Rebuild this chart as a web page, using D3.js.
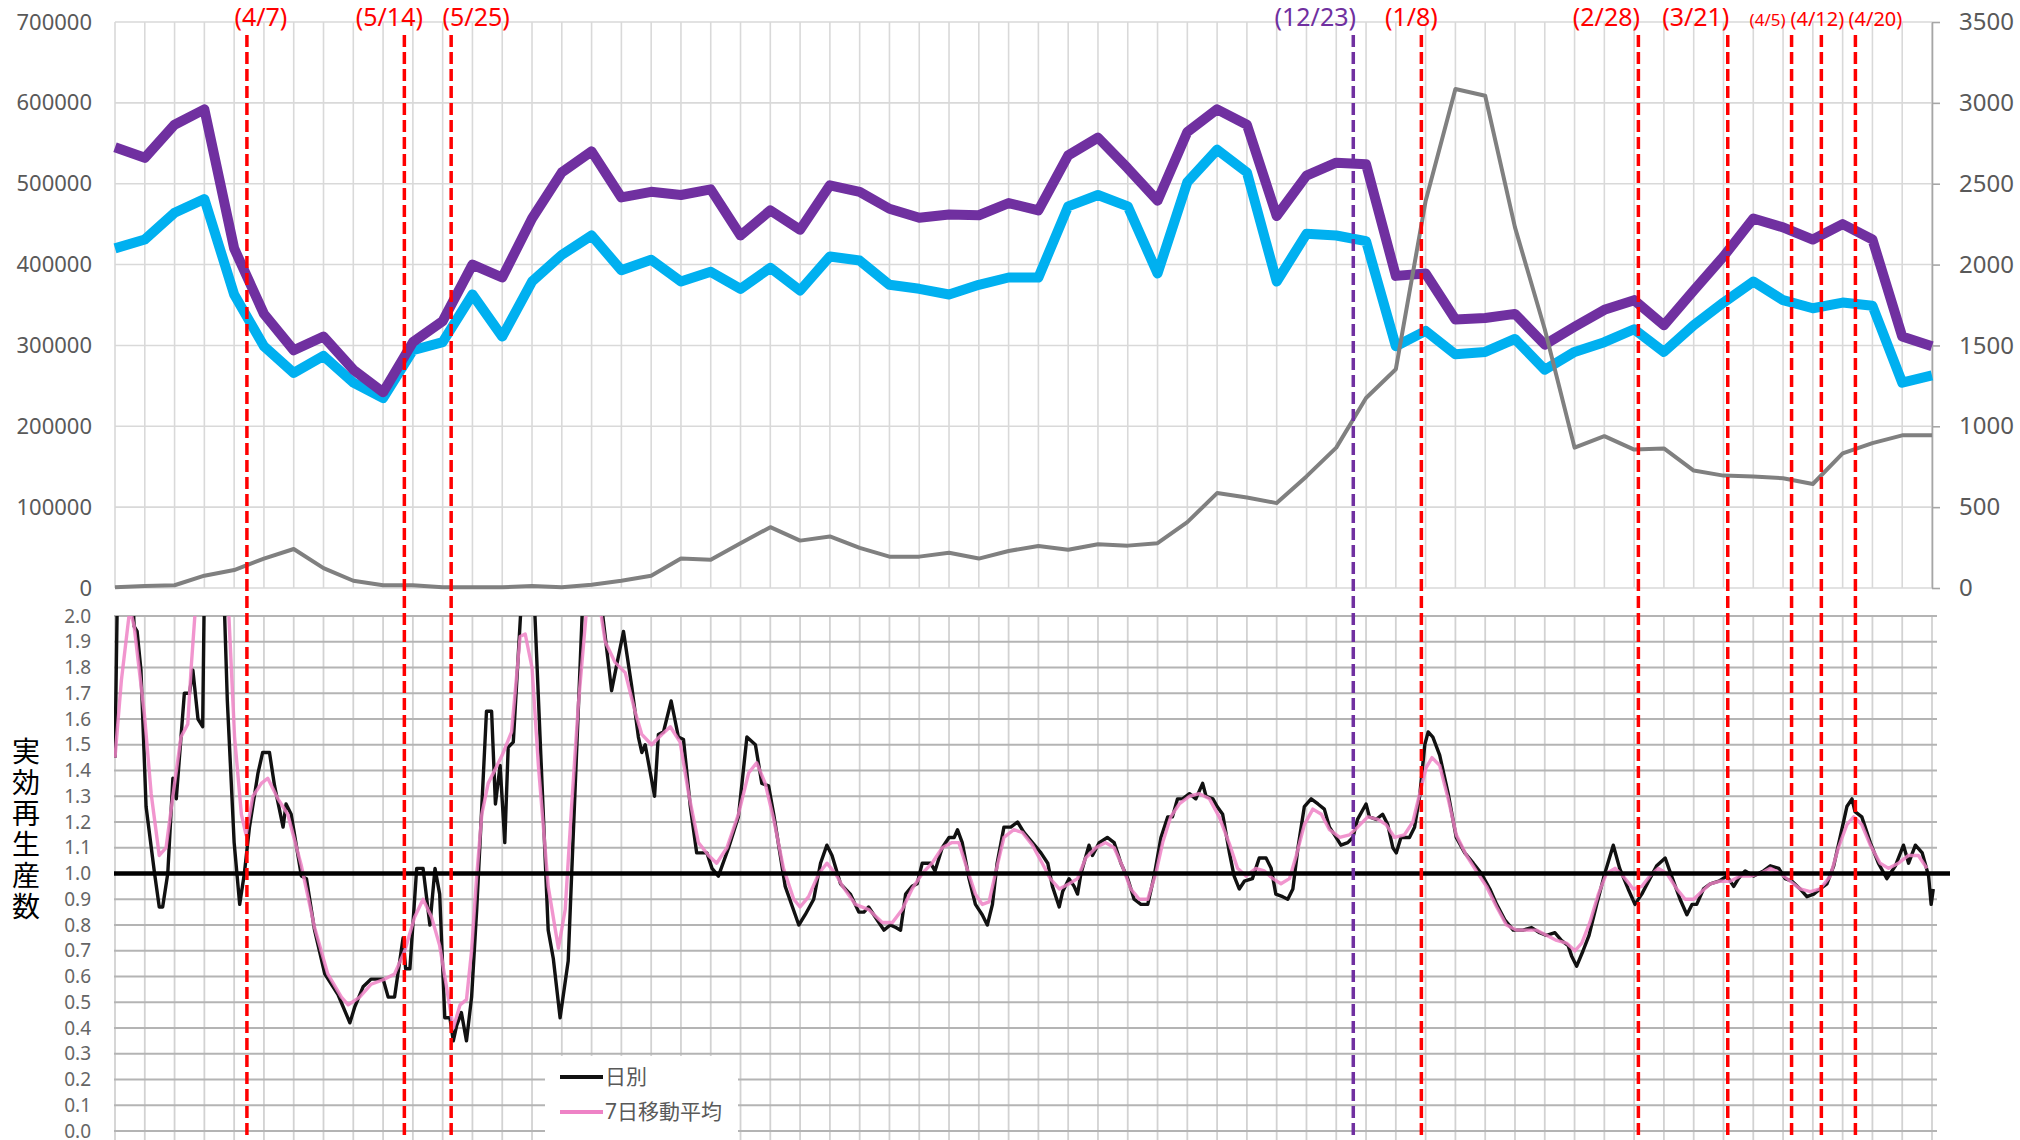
<!DOCTYPE html>
<html>
<head>
<meta charset="utf-8">
<script src="https://cdn.jsdelivr.net/npm/d3@7"></script>
<style>
  body { margin: 0; background: #fff; }
  text { font-family: "Noto Sans", "Noto Sans CJK JP", sans-serif; }
</style>
</head>
<body>
<svg id="chart" width="2020" height="1140"></svg>
<script>
// ---- data ----
// weekly points, first week starting 2020-03-07
const purpleWeekly = [545000, 532000, 573000, 592000, 420000, 339000, 294000, 311000, 270000, 242000, 304000, 330000, 400000, 384000, 457000, 514000, 540000,
  483000, 490000, 486000, 493000, 436000, 467000, 443000, 498000, 490000, 469000, 458000, 462000, 461000, 476000, 467000, 535000, 557000, 519000, 479000, 564000,
  592000, 573000, 460000, 510000, 526000, 524000, 386000, 389000, 332000, 334000, 339000, 301000, 323000, 344000, 356000, 325000, 368000, 410000, 457000, 446000, 431000, 450000, 431000, 311000, 299000];
const cyanWeekly = [420000, 431000, 464000, 481000, 363000, 299000, 266000, 287000, 254000, 235000, 294000, 304000, 363000, 311000, 379000, 412000, 436000,
  393000, 406000, 379000, 391000, 370000, 396000, 368000, 410000, 405000, 375000, 370000, 363000, 375000, 384000, 384000, 472000, 486000, 472000, 389000, 502000,
  542000, 514000, 379000, 438000, 436000, 429000, 299000, 318000, 289000, 292000, 308000, 270000, 292000, 304000, 320000, 292000, 325000, 353000, 379000, 356000, 346000, 353000, 349000, 254000, 263000];
// right axis series
const grayWeekly = [5, 12, 17, 76, 111, 182, 241, 123, 45, 17, 17, 5, 5, 5, 12, 5, 20,
  45, 76, 182, 175, 277, 376, 293, 319, 248, 194, 194, 218, 182, 229, 260, 236, 270, 262, 277, 407,
  587, 560, 525, 690, 868, 1175, 1353, 2393, 3086, 3044, 2230, 1600, 868, 939, 856, 863, 726, 695, 690, 679, 643, 832, 896, 944, 944];

// effective reproduction number: [day offset from 2020-03-07, value]
const rDaily = [[0,1.45],[1,2.6],[3.5,2.3],[4.5,1.96],[5.2,1.94],[6.1,1.79],[7.3,1.26],[9.3,1.0],[10.4,0.87],[11.2,0.87],[12.4,1.0],[13.6,1.37],[14.4,1.29],
  [16.3,1.70],[17.5,1.70],[18.3,1.79],[19.5,1.60],[20.6,1.57],[21.5,2.8],[24.5,2.7],[25,2.4],[26.4,1.67],[28,1.12],[29.3,0.88],[30.4,1.0],[31.6,1.18],
  [33.6,1.39],[34.7,1.47],[36.3,1.47],[37.5,1.34],[39.5,1.18],[40.2,1.27],[41.4,1.23],[43.8,0.99],[45,0.98],[46.9,0.78],[49.3,0.61],[52.4,0.53],[55.2,0.42],
  [56.3,0.48],[58.3,0.56],[60.2,0.59],[63,0.59],[64.2,0.52],[65.7,0.52],[67.7,0.75],[68.3,0.63],[69.3,0.63],[70.9,1.02],[72.4,1.02],[74,0.80],[75.2,1.02],
  [76.3,0.92],[77.5,0.44],[78.7,0.44],[79.5,0.35],[80.3,0.41],[81.4,0.46],[82.6,0.35],[83.8,0.52],[85,0.86],[86.2,1.26],[87.3,1.63],[88.5,1.63],[89.4,1.27],
  [90.5,1.42],[91.6,1.12],[92.4,1.49],[93.6,1.51],[96.5,2.35],[97.8,2.35],[101.8,0.78],[103,0.67],[104.6,0.44],[106.5,0.66],[107.3,0.99],[110.5,2.3],
  [112.5,2.3],[116.7,1.71],[117.9,1.81],[119.5,1.94],[121.4,1.73],[123,1.53],[123.8,1.47],[124.6,1.50],[126.8,1.30],[127.7,1.54],[128.9,1.55],[130.7,1.67],
  [132.4,1.53],[133.6,1.52],[135.2,1.26],[136.7,1.08],[139.1,1.08],[140.3,1.02],[141.8,0.99],[144.2,1.10],[146.5,1.22],[148.5,1.53],[150.5,1.50],[152,1.35],
  [153.6,1.34],[154.8,1.23],[157.5,0.95],[160.7,0.80],[162.2,0.84],[164.2,0.90],[165.8,1.04],[167.3,1.11],[168.5,1.07],[170.5,0.96],[172.8,0.92],[174.8,0.85],
  [176,0.85],[177.1,0.87],[178.7,0.83],[180.7,0.78],[182.2,0.80],[183.5,0.79],[184.6,0.78],[185.8,0.92],[187.3,0.95],[188.5,0.96],[189.7,1.04],[191.7,1.04],
  [192.7,1.01],[194.4,1.10],[196,1.14],[197.2,1.14],[198,1.17],[199.1,1.12],[200.7,0.98],[202.2,0.88],[203.8,0.84],[205,0.80],[206.2,0.88],[207.3,1.04],
  [208.9,1.18],[210.5,1.18],[212.1,1.20],[213.6,1.16],[215.6,1.12],[217.6,1.08],[219.2,1.04],[220.3,0.95],[221.9,0.87],[222.7,0.93],[224.2,0.98],[225.4,0.95],
  [226.2,0.92],[227,1.0],[228.9,1.11],[229.7,1.07],[231.3,1.12],[233.2,1.14],[234.8,1.12],[236.4,1.04],[238,0.98],[239.5,0.90],[241.1,0.88],[242.7,0.88],
  [244.2,0.99],[245.8,1.14],[247.4,1.22],[248.5,1.22],[249.7,1.29],[250.9,1.29],[252.5,1.31],[254,1.29],[255.6,1.35],[256.4,1.30],[258,1.29],[259,1.26],
  [260.3,1.23],[261.9,1.08],[263,0.99],[264.2,0.94],[265.4,0.97],[267.3,0.98],[268.9,1.06],[270.5,1.06],[271.7,1.02],[272.8,0.92],[274.4,0.91],[275.6,0.90],
  [276.8,0.94],[278,1.10],[279.5,1.26],[281.1,1.29],[282.7,1.27],[284.2,1.25],[285.4,1.18],[286.6,1.15],[288.1,1.11],[289.7,1.12],[290.9,1.14],[292,1.21],
  [294,1.27],[294.8,1.22],[296.4,1.21],[297.9,1.23],[299.1,1.19],[300.3,1.10],[301.1,1.08],[302.2,1.14],[304.2,1.14],[305.4,1.18],[306.6,1.30],[307.8,1.50],
  [308.6,1.55],[309.7,1.53],[311.3,1.46],[313.3,1.31],[315.2,1.14],[317.2,1.08],[319.2,1.04],[321.1,1.0],[323.1,0.94],[324.7,0.88],[326.6,0.82],[328.6,0.78],
  [330.9,0.78],[332.9,0.79],[334.8,0.77],[336.4,0.76],[338.4,0.77],[339.9,0.74],[341.5,0.72],[342.3,0.68],[343.5,0.64],[345,0.70],[346.4,0.76],[348.2,0.88],
  [350.1,1.0],[352.1,1.11],[353.6,1.02],[355.6,0.94],[357.2,0.88],[358.8,0.92],[360.7,0.98],[362.3,1.03],[364.3,1.06],[365.8,0.99],[367.8,0.90],[369.4,0.84],
  [370.6,0.88],[371.7,0.88],[373.3,0.94],[374.9,0.96],[376.9,0.97],[378.8,0.99],[380.4,0.95],[381.5,0.98],[383.1,1.01],[385.1,0.99],[387.4,1.01],[389,1.03],
  [391,1.02],[392.5,0.98],[394.1,0.97],[396,0.94],[397.6,0.91],[399.2,0.92],[400.7,0.94],[402.3,0.96],[403.9,1.03],[405.4,1.14],[407,1.26],[408.2,1.29],
  [408.9,1.24],[410.5,1.22],[412.5,1.12],[414.4,1.04],[416.4,0.98],[418.4,1.03],[420.3,1.11],[421.5,1.04],[423.1,1.11],[424.7,1.08],[426.2,0.99],[426.8,0.88],[427.3,0.94]];

const rAvg7 = [[0,1.45],[1.5,1.75],[3.5,2.03],[4.5,1.96],[6.9,1.62],[8.5,1.31],[10.4,1.07],[12,1.10],[13.6,1.30],[15.5,1.53],[17.1,1.58],[17.9,1.80],
  [20.5,2.4],[23.5,2.5],[26.2,2.2],[28.1,1.53],[29.7,1.23],[30.8,1.15],[32.4,1.30],[34.4,1.35],[35.9,1.37],[38.3,1.29],[40.6,1.23],[43.8,1.03],[46.9,0.79],
  [50,0.61],[53.2,0.52],[54.8,0.49],[57.5,0.52],[60.2,0.57],[63.4,0.59],[65.7,0.61],[68.1,0.70],[70.4,0.83],[72.4,0.90],[74.4,0.83],[76.3,0.72],[78.3,0.52],
  [79.5,0.40],[81.1,0.49],[82.6,0.51],[83.8,0.70],[85,0.99],[86.2,1.23],[87.7,1.35],[91,1.46],[93.2,1.55],[95.2,1.92],[96.4,1.93],[98,1.80],[99.5,1.42],
  [101.8,0.95],[104.2,0.71],[105.8,0.86],[107.3,1.26],[108.9,1.66],[112,2.25],[115.2,1.90],[117.5,1.82],[119.9,1.78],[122.2,1.63],[123.8,1.54],[126.1,1.50],
  [128.5,1.54],[130.5,1.57],[132.8,1.51],[134.8,1.31],[137.1,1.12],[139.5,1.07],[141.4,1.04],[143.8,1.10],[146.5,1.23],[148.9,1.39],[150.8,1.43],[152.8,1.35],
  [154.8,1.21],[157.1,1.02],[159.5,0.90],[161,0.87],[163,0.91],[165.4,1.0],[167.3,1.04],[169.3,1.0],[171,0.95],[174,0.88],[177.1,0.86],[180.3,0.81],[182.7,0.81],
  [185,0.86],[187.3,0.94],[189.7,1.0],[192,1.04],[194.4,1.10],[196.7,1.12],[198.3,1.12],[200.2,1.02],[202.2,0.92],[203.8,0.88],[205.4,0.89],[206.9,1.0],
  [208.9,1.14],[211.2,1.17],[213.2,1.16],[215.6,1.11],[217.9,1.04],[219.8,0.98],[221.9,0.94],[224.2,0.96],[226.2,0.98],[228.1,1.06],[230.5,1.10],[232.8,1.12],
  [234.8,1.10],[236.7,1.03],[238.7,0.94],[240.7,0.90],[242.7,0.90],[244.6,1.0],[246.2,1.12],[248.1,1.22],[250.1,1.27],[252.5,1.30],[254.8,1.31],[257.2,1.29],
  [259.5,1.22],[262,1.11],[263.8,1.02],[265.8,0.99],[268.1,1.02],[270.1,1.01],[272.1,0.98],[274,0.96],[276,0.98],[277.6,1.07],[279.5,1.19],[281.5,1.25],
  [283.5,1.23],[285.4,1.17],[287.8,1.14],[290.1,1.15],[292,1.18],[294.4,1.22],[296.8,1.21],[298.7,1.19],[300.7,1.14],[303,1.15],[305,1.20],[306.6,1.31],
  [308.1,1.41],[309.5,1.45],[311.3,1.42],[313.3,1.29],[315.2,1.15],[317.6,1.07],[319.9,1.01],[322.3,0.95],[324.7,0.87],[327,0.80],[329.4,0.78],[331.7,0.78],
  [334.1,0.78],[336.4,0.76],[338.8,0.74],[341.1,0.73],[343.1,0.70],[344.7,0.73],[346.6,0.81],[348.6,0.92],[350.5,1.0],[352.5,1.02],[354.4,0.99],[356.8,0.94],
  [358.8,0.95],[360.7,0.99],[362.7,1.02],[364.7,1.0],[367,0.94],[369,0.90],[371,0.90],[372.9,0.93],[374.9,0.96],[377.2,0.97],[379.6,0.97],[381.9,0.99],
  [384.3,0.99],[386.7,1.0],[389,1.02],[391.4,1.0],[393.7,0.97],[396,0.94],[398.4,0.93],[400.7,0.94],[403.1,0.99],[405,1.10],[407,1.19],[408.6,1.22],
  [410.5,1.19],[412.5,1.11],[414.8,1.04],[416.8,1.02],[419.1,1.04],[421.5,1.07],[423.8,1.07],[425.8,1.02]];

// event markers
const markerDates = ["2020-04-07", "2020-05-14", "2020-05-25", "2020-12-23", "2021-01-08", "2021-02-28", "2021-03-21", "2021-04-05", "2021-04-12", "2021-04-20"];
const legendNames = ["日別", "7日移動平均"];
const yTitle = "実効再生産数";

// ---- styling (not data) ----
const markerColors = ["#ff0000", "#ff0000", "#ff0000", "#7030a0", "#ff0000", "#ff0000", "#ff0000", "#ff0000", "#ff0000", "#ff0000"];
const labelShift = [14, -15, 25, -38, -10, -32, -32, -24, -4, 20];
const labelSize = [25, 25, 25, 25, 25, 25, 25, 17, 20, 20];

const svg = d3.select("#chart");
svg.append("rect").attr("width", 2020).attr("height", 1140).attr("fill", "#fff");

const DAY = 864e5;
const start = Date.UTC(2020, 2, 7);
const dayDate = d => new Date(start + d * DAY);
const weekDates = d3.range(purpleWeekly.length).map(i => dayDate(7 * i));

const x = d3.scaleUtc()
  .domain([weekDates[0], weekDates[weekDates.length - 1]])
  .range([115, 1932]);
const yTop = d3.scaleLinear().domain([0, 700000]).range([588, 22]);
const yTopR = d3.scaleLinear().domain([0, 3500]).range([588, 22]);
const yR = d3.scaleLinear().domain([0, 2]).range([1131, 616]);

// ---- upper panel ----
const upper = svg.append("g");

upper.selectAll("line.hg").data(yTop.ticks(7)).enter().append("line")
  .attr("x1", 115).attr("x2", 1932)
  .attr("y1", d => yTop(d)).attr("y2", d => yTop(d))
  .attr("stroke", "#d9d9d9").attr("stroke-width", 1.6);

upper.selectAll("line.vg").data(weekDates).enter().append("line")
  .attr("x1", d => x(d)).attr("x2", d => x(d))
  .attr("y1", yTop(700000)).attr("y2", yTop(0))
  .attr("stroke", "#d9d9d9").attr("stroke-width", 1.6);

// left axis
upper.append("g")
  .attr("transform", `translate(${x.range()[0]},0)`)
  .call(d3.axisLeft(yTop).tickValues(d3.range(0, 700001, 100000)).tickFormat(d3.format("d")).tickSize(0).tickPadding(23))
  .call(g => g.select(".domain").remove())
  .selectAll("text").attr("font-size", 22).attr("fill", "#595959")
  .attr("font-family", "'Noto Sans', sans-serif");

// right axis
upper.append("g")
  .attr("transform", `translate(${x.range()[1]},0)`)
  .call(d3.axisRight(yTopR).tickValues(d3.range(0, 3501, 500)).tickFormat(d3.format("d")).tickSize(8).tickSizeOuter(0).tickPadding(19))
  .call(g => g.select(".domain").attr("stroke", "#a6a6a6").attr("stroke-width", 1.6))
  .call(g => g.selectAll(".tick line").attr("stroke", "#a6a6a6").attr("stroke-width", 1.6))
  .selectAll("text").attr("font-size", 24).attr("fill", "#595959")
  .attr("font-family", "'Noto Sans', sans-serif");

const weekLine = scale => d3.line().x((d, i) => x(weekDates[i])).y(d => scale(d));

upper.append("path").datum(cyanWeekly)
  .attr("d", weekLine(yTop)).attr("fill", "none")
  .attr("stroke", "#00b0f0").attr("stroke-width", 10).attr("stroke-linejoin", "round");
upper.append("path").datum(purpleWeekly)
  .attr("d", weekLine(yTop)).attr("fill", "none")
  .attr("stroke", "#7030a0").attr("stroke-width", 10).attr("stroke-linejoin", "round");
upper.append("path").datum(grayWeekly)
  .attr("d", weekLine(yTopR)).attr("fill", "none")
  .attr("stroke", "#808080").attr("stroke-width", 4).attr("stroke-linejoin", "round");

// ---- lower panel ----
const lower = svg.append("g");
const rTicks = d3.range(0, 21).map(i => i / 10);

lower.selectAll("line.vg").data(weekDates).enter().append("line")
  .attr("x1", d => x(d)).attr("x2", d => x(d))
  .attr("y1", yR(2)).attr("y2", 1140)
  .attr("stroke", "#d2d2d2").attr("stroke-width", 1.8);

lower.selectAll("line.hg").data(rTicks).enter().append("line")
  .attr("x1", 114).attr("x2", 1937)
  .attr("y1", d => yR(d)).attr("y2", d => yR(d))
  .attr("stroke", "#b4b4b4").attr("stroke-width", 1.8);

lower.append("g")
  .attr("transform", "translate(114,0)")
  .call(d3.axisLeft(yR).tickValues(rTicks).tickFormat(d3.format(".1f")).tickSize(0).tickPadding(23))
  .call(g => g.select(".domain").remove())
  .selectAll("text").attr("font-size", 19).attr("fill", "#666")
  .attr("font-family", "'Noto Sans', sans-serif");

// y title, written top to bottom
svg.append("text")
  .attr("x", 25).attr("y", 737)
  .attr("writing-mode", "tb")
  .style("letter-spacing", "3px")
  .attr("font-size", 28).attr("fill", "#000")
  .attr("font-family", "'Noto Sans CJK JP', sans-serif")
  .text(yTitle);

svg.append("clipPath").attr("id", "clipR")
  .append("rect").attr("x", 114).attr("y", yR(2)).attr("width", 1823).attr("height", yR(0) - yR(2) + 6);

const dayLine = d3.line().x(d => x(dayDate(d[0]))).y(d => yR(d[1]));
const plotR = lower.append("g").attr("clip-path", "url(#clipR)");

plotR.append("path").datum(rDaily)
  .attr("d", dayLine).attr("fill", "none")
  .attr("stroke", "#111").attr("stroke-width", 3.4).attr("stroke-linejoin", "round");
plotR.append("path").datum(rAvg7)
  .attr("d", dayLine).attr("fill", "none")
  .attr("stroke", "#ee82c6").attr("stroke-width", 3.4).attr("stroke-opacity", 0.85).attr("stroke-linejoin", "round");

// R = 1 reference
lower.append("line")
  .attr("x1", 114).attr("x2", 1950)
  .attr("y1", yR(1)).attr("y2", yR(1))
  .attr("stroke", "#000").attr("stroke-width", 4.5);

// legend
const leg = lower.append("g").attr("transform", "translate(545,1056)");
leg.append("rect").attr("width", 193).attr("height", 84).attr("fill", "#fff");
const legColors = ["#111", "#ee82c6"];
legendNames.forEach((name, i) => {
  const row = leg.append("g").attr("transform", `translate(0,${21 + i * 35})`);
  row.append("line").attr("x1", 15).attr("x2", 58)
    .attr("stroke", legColors[i]).attr("stroke-width", 4);
  row.append("text").attr("x", 60).attr("dy", "0.35em")
    .attr("font-size", 21).attr("fill", "#595959")
    .attr("font-family", "'Noto Sans CJK JP', sans-serif")
    .text(name);
});

// ---- event markers across both panels ----
const parseDay = d3.utcParse("%Y-%m-%d");
const fmtLabel = d3.utcFormat("(%-m/%-d)");
const markers = svg.append("g");
markerDates.forEach((ds, i) => {
  const dt = parseDay(ds);
  markers.append("line")
    .attr("x1", x(dt)).attr("x2", x(dt))
    .attr("y1", 35).attr("y2", 1140)
    .attr("stroke", markerColors[i]).attr("stroke-width", 3.5)
    .attr("stroke-dasharray", "12,5");
  markers.append("text")
    .attr("x", x(dt) + labelShift[i]).attr("y", 26)
    .attr("text-anchor", "middle")
    .attr("font-size", labelSize[i]).attr("fill", markerColors[i])
    .text(fmtLabel(dt));
});
</script>
</body>
</html>
